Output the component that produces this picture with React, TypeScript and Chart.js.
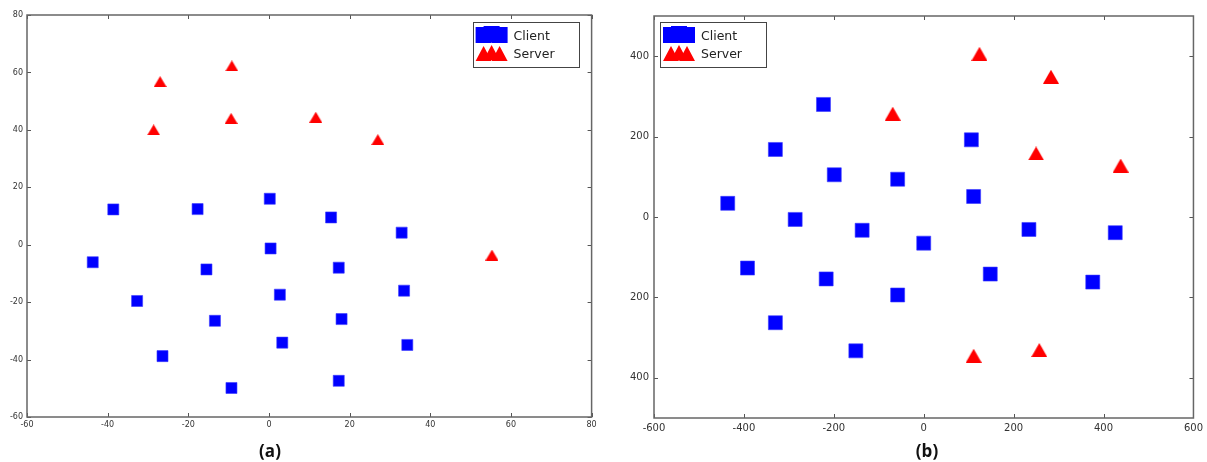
import { useEffect, useRef } from "react";
import { Chart, registerables } from "chart.js";

Chart.register(...registerables);

// ---------- Panel (a) ----------
const clientAX = [-38.6, -17.7, 0.2, 15.4, 32.9, -43.7, -15.5, 0.4, 17.3, -32.7, 2.7, 33.5, -13.4, 18.0, -26.4, 3.3, 34.3, -9.3, 17.3];
const clientAY = [12.3, 12.4, 16.0, 9.5, 4.2, -6.1, -8.6, -1.3, -8.0, -19.6, -17.4, -16.0, -26.5, -25.9, -38.8, -34.1, -34.9, -49.9, -47.4];
const serverAX = [-27.0, -9.2, -28.6, -9.4, 11.6, 27.0, 55.3];
const serverAY = [56.8, 62.3, 40.0, 44.0, 44.4, 36.6, -3.6];
const xTicksA = [-60, -40, -20, 0, 20, 40, 60, 80];
const yTicksA = [-60, -40, -20, 0, 20, 40, 60, 80];

// ---------- Panel (b) ----------
const clientBX = [-223, -330, 106, -199, -58, 111, -436, -286, -137, 0, 234, 426, -392, -217, 148, -58, 376, -330, -151];
const clientBY = [280, 168, 192, 105, 94, 51, 34, -6, -33, -65, -31, -39, -127, -154, -142, -194, -162, -263, -333];
const serverBX = [124, 283, -69, 250, 438, 111, 257];
const serverBY = [406, 349, 257, 158, 128, -345, -331];
const xTicksB = [-600, -400, -200, 0, 200, 400, 600];
const yTicksB = [-400, -200, 0, 200, 400];

const seriesNames = ["Client", "Server"];
const captions = ["(a)", "(b)"];

const BLUE = "#0000ff";
const RED = "#ff0000";

const zip = (xs: number[], ys: number[]) => xs.map((x, i) => ({ x, y: ys[i] }));

function makeTriangle(w: number, h: number, color: string) {
  const c = document.createElement("canvas");
  c.width = w;
  c.height = h;
  const g = c.getContext("2d")!;
  g.fillStyle = color;
  g.beginPath();
  g.moveTo(w / 2, 0);
  g.lineTo(w, h);
  g.lineTo(0, h);
  g.closePath();
  g.fill();
  return c;
}

const framePlugin = {
  id: "mplFrame",
  afterDraw(chart: any) {
    const { ctx, chartArea: a, scales } = chart;
    ctx.save();
    ctx.strokeStyle = "#555";
    ctx.lineWidth = 1;
    const tl = 4;
    ctx.beginPath();
    scales.x.ticks.forEach((t: any) => {
      const p = Math.round(scales.x.getPixelForValue(t.value)) + 0.5;
      ctx.moveTo(p, a.bottom);
      ctx.lineTo(p, a.bottom - tl);
      ctx.moveTo(p, a.top);
      ctx.lineTo(p, a.top + tl);
    });
    scales.y.ticks.forEach((t: any) => {
      const p = Math.round(scales.y.getPixelForValue(t.value)) + 0.5;
      ctx.moveTo(a.left, p);
      ctx.lineTo(a.left + tl, p);
      ctx.moveTo(a.right, p);
      ctx.lineTo(a.right - tl, p);
    });
    ctx.stroke();
    ctx.lineWidth = 1.5;
    ctx.strokeStyle = "#666";
    ctx.strokeRect(a.left, a.top, a.right - a.left, a.bottom - a.top);
    ctx.restore();
  },
};

const legendPlugin = {
  id: "mplLegend",
  afterDraw(chart: any, _args: any, opts: any) {
    if (!opts || !opts.anchor) return;
    const { ctx, chartArea: a } = chart;
    const w = 106;
    const h = 45;
    const left = opts.anchor === "right" ? a.right - opts.gapX - w : a.left + opts.gapX;
    const top = a.top + opts.gapY;
    ctx.save();
    ctx.fillStyle = "#ffffff";
    ctx.fillRect(left, top, w, h);
    ctx.strokeStyle = "#444";
    ctx.lineWidth = 1;
    ctx.strokeRect(Math.round(left) + 0.5, Math.round(top) + 0.5, w, h);
    const row1 = top + 13;
    const row2 = top + 31.5;
    for (let i = 0; i < 3; i++) {
      const cx = left + 11 + 8 * i;
      const cy = row1 - (i === 1 ? 1 : 0);
      ctx.fillStyle = BLUE;
      ctx.fillRect(cx - 8, cy - 8, 16, 16);
    }
    for (let i = 0; i < 3; i++) {
      const cx = left + 11 + 8 * i;
      const cy = row2 - (i === 1 ? 1 : 0);
      ctx.fillStyle = RED;
      ctx.beginPath();
      ctx.moveTo(cx, cy - 7.5);
      ctx.lineTo(cx - 8, cy + 7.5);
      ctx.lineTo(cx + 8, cy + 7.5);
      ctx.closePath();
      ctx.fill();
    }
    ctx.fillStyle = "#222";
    ctx.font = "12.5px 'DejaVu Sans'";
    ctx.textBaseline = "middle";
    ctx.textAlign = "left";
    ctx.fillText(seriesNames[0], left + 41, row1 + 1.5);
    ctx.fillText(seriesNames[1], left + 41, row2 + 1.5);
    ctx.restore();
  },
};

type PanelCfg = {
  width: number;
  height: number;
  clientX: number[];
  clientY: number[];
  serverX: number[];
  serverY: number[];
  xTicks: number[];
  yTicks: number[];
  xMin: number;
  xMax: number;
  yMin: number;
  yMax: number;
  yAxisWidth: number;
  xAxisHeight: number;
  padTop: number;
  padRight: number;
  fontSize: number;
  squareR: number;
  triW: number;
  triH: number;
  legendAnchor: string;
  legendGapX: number;
  legendGapY: number;
  absLabels: boolean;
  xPad: number;
  yPad: number;
};

function Panel({ cfg }: { cfg: PanelCfg }) {
  const ref = useRef<HTMLCanvasElement | null>(null);
  useEffect(() => {
    if (!ref.current) return;
    const tickFont = { family: "'DejaVu Sans'", size: cfg.fontSize };
    const tri = makeTriangle(cfg.triW, cfg.triH, RED);
    const chart = new Chart(ref.current, {
      type: "scatter",
      data: {
        datasets: [
          {
            label: seriesNames[0],
            data: zip(cfg.clientX, cfg.clientY),
            pointStyle: "rect",
            pointRadius: cfg.squareR,
            backgroundColor: BLUE,
            borderColor: "#3a3aff",
            borderWidth: 0.6,
          },
          {
            label: seriesNames[1],
            data: zip(cfg.serverX, cfg.serverY),
            pointStyle: tri,
            pointRadius: cfg.triW / 2,
            backgroundColor: RED,
            borderColor: RED,
            borderWidth: 0,
          },
        ],
      },
      options: {
        animation: false,
        responsive: false,
        layout: { padding: { top: cfg.padTop, right: cfg.padRight, left: 0, bottom: 0 } },
        plugins: {
          legend: { display: false },
          tooltip: { enabled: false },
          mplLegend: { anchor: cfg.legendAnchor, gapX: cfg.legendGapX, gapY: cfg.legendGapY },
        } as any,
        scales: {
          x: {
            type: "linear",
            min: cfg.xMin,
            max: cfg.xMax,
            grid: { display: false, drawTicks: false },
            border: { display: false },
            ticks: {
              font: tickFont,
              color: "#333",
              padding: cfg.xPad,
              maxRotation: 0,
              callback: (v: any) => String(v),
            },
            afterBuildTicks: (s: any) => {
              s.ticks = cfg.xTicks.map((v) => ({ value: v }));
            },
            afterFit: (s: any) => {
              s.height = cfg.xAxisHeight;
            },
          },
          y: {
            type: "linear",
            min: cfg.yMin,
            max: cfg.yMax,
            grid: { display: false, drawTicks: false },
            border: { display: false },
            ticks: {
              font: tickFont,
              color: "#333",
              padding: cfg.yPad,
              callback: (v: any) => (cfg.absLabels ? String(Math.abs(Number(v))) : String(v)),
            },
            afterBuildTicks: (s: any) => {
              s.ticks = cfg.yTicks.map((v) => ({ value: v }));
            },
            afterFit: (s: any) => {
              s.width = cfg.yAxisWidth;
            },
          },
        },
      },
      plugins: [framePlugin, legendPlugin],
    } as any);
    return () => chart.destroy();
  }, [cfg]);
  return <canvas ref={ref} width={cfg.width} height={cfg.height} style={{ display: "block" }} />;
}

const cfgA: PanelCfg = {
  width: 600,
  height: 440,
  clientX: clientAX,
  clientY: clientAY,
  serverX: serverAX,
  serverY: serverAY,
  xTicks: xTicksA,
  yTicks: yTicksA,
  xMin: -60,
  xMax: 80,
  yMin: -60,
  yMax: 80,
  yAxisWidth: 27,
  xAxisHeight: 23,
  padTop: 15,
  padRight: 8,
  fontSize: 8,
  squareR: 7.8,
  triW: 13,
  triH: 11,
  legendAnchor: "right",
  legendGapX: 13,
  legendGapY: 7,
  absLabels: false,
  xPad: 3,
  yPad: 4,
};

const cfgB: PanelCfg = {
  width: 607,
  height: 440,
  clientX: clientBX,
  clientY: clientBY,
  serverX: serverBX,
  serverY: serverBY,
  xTicks: xTicksB,
  yTicks: yTicksB,
  xMin: -600,
  xMax: 600,
  yMin: -500,
  yMax: 500,
  yAxisWidth: 54,
  xAxisHeight: 22,
  padTop: 16,
  padRight: 11,
  fontSize: 10,
  squareR: 9.9,
  triW: 16,
  triH: 14,
  legendAnchor: "left",
  legendGapX: 6,
  legendGapY: 6,
  absLabels: true,
  xPad: 4,
  yPad: 5,
};

export default function App() {
  const capStyle: any = {
    position: "absolute",
    top: 439,
    fontFamily: "'Open Sans', sans-serif",
    fontWeight: 700,
    fontSize: 17,
    lineHeight: "24px",
    color: "#111",
    transform: "translateX(-50%)",
  };
  return (
    <div style={{ position: "absolute", left: 0, top: 0, width: 1207, height: 462, background: "#fff", overflow: "hidden" }}>
      <div style={{ position: "absolute", left: 0, top: 0 }}>
        <Panel cfg={cfgA} />
      </div>
      <div style={{ position: "absolute", left: 600, top: 0 }}>
        <Panel cfg={cfgB} />
      </div>
      <div style={{ ...capStyle, left: 270 }}>{captions[0]}</div>
      <div style={{ ...capStyle, left: 927 }}>{captions[1]}</div>
    </div>
  );
}
